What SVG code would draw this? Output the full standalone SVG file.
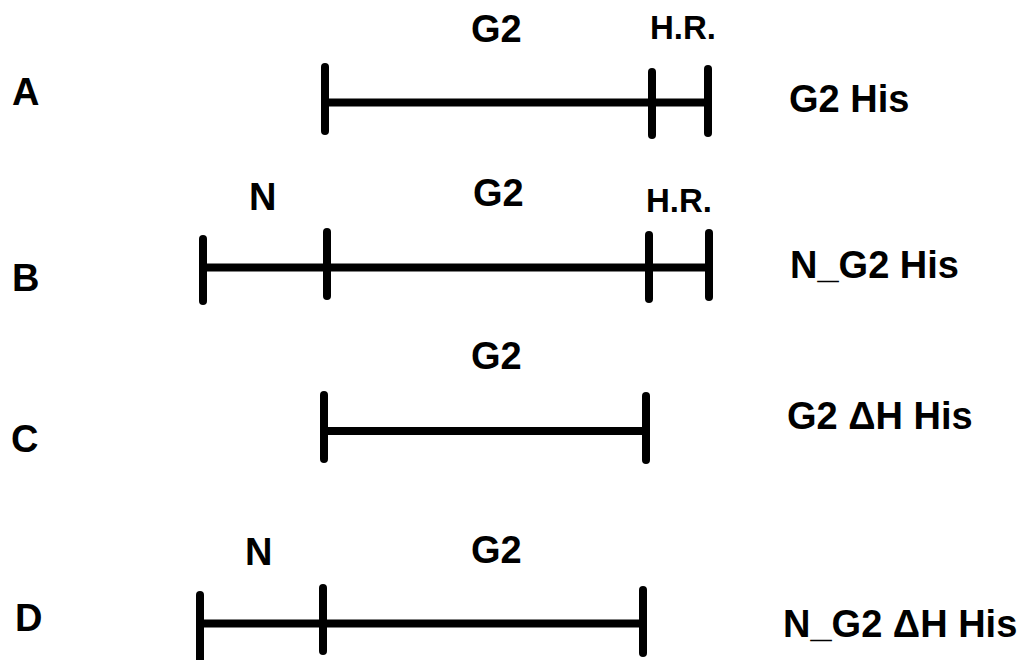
<svg xmlns="http://www.w3.org/2000/svg" width="1022" height="660" viewBox="0 0 1022 660">
<style>
text{font-family:"Liberation Sans",Arial,sans-serif;font-weight:bold;fill:#000}
.lbl{font-size:38px}
.sm{font-size:33px}
.bar{stroke:#000;stroke-width:8;fill:none}
.tick{stroke:#000;stroke-width:8;stroke-linecap:round;fill:none}
</style>
<rect width="1022" height="660" fill="#fff"/>
<g id="rowA">
<text class="lbl" x="12" y="105">A</text>
<text class="lbl" x="471" y="42">G2</text>
<text class="sm" x="650" y="39">H.R.</text>
<text class="lbl" x="789" y="112">G2 His</text>
<line class="bar" x1="325" y1="102.5" x2="708" y2="102.5"/>
<line class="tick" x1="325" y1="67" x2="325" y2="131"/>
<line class="tick" x1="652" y1="72" x2="652" y2="135"/>
<line class="tick" x1="708" y1="69" x2="708" y2="133"/>
</g>
<g id="rowB">
<text class="lbl" x="12" y="291">B</text>
<text class="lbl" x="249" y="210">N</text>
<text class="lbl" x="473" y="206">G2</text>
<text class="sm" x="646" y="212">H.R.</text>
<text class="lbl" x="790" y="278">N_G2 His</text>
<line class="bar" x1="203" y1="267.5" x2="709" y2="267.5"/>
<line class="tick" x1="203" y1="239" x2="203" y2="301"/>
<line class="tick" x1="327" y1="232" x2="327" y2="296"/>
<line class="tick" x1="649" y1="235" x2="649" y2="299"/>
<line class="tick" x1="709" y1="233" x2="709" y2="297"/>
</g>
<g id="rowC">
<text class="lbl" x="11" y="452">C</text>
<text class="lbl" x="471" y="369">G2</text>
<text class="lbl" x="787" y="429">G2 ΔH His</text>
<line class="bar" x1="324" y1="431" x2="646" y2="431"/>
<line class="tick" x1="324" y1="395" x2="324" y2="459"/>
<line class="tick" x1="646" y1="396" x2="646" y2="460"/>
</g>
<g id="rowD">
<text class="lbl" x="15" y="631">D</text>
<text class="lbl" x="245" y="565">N</text>
<text class="lbl" x="471" y="563">G2</text>
<text class="lbl" x="783" y="637">N_G2 ΔH His</text>
<line class="bar" x1="200" y1="623.5" x2="643" y2="623.5"/>
<line class="tick" x1="200" y1="595" x2="200" y2="668"/>
<line class="tick" x1="323" y1="588" x2="323" y2="651"/>
<line class="tick" x1="643" y1="590" x2="643" y2="653"/>
</g>
<g id="connectors"></g>
</svg>
